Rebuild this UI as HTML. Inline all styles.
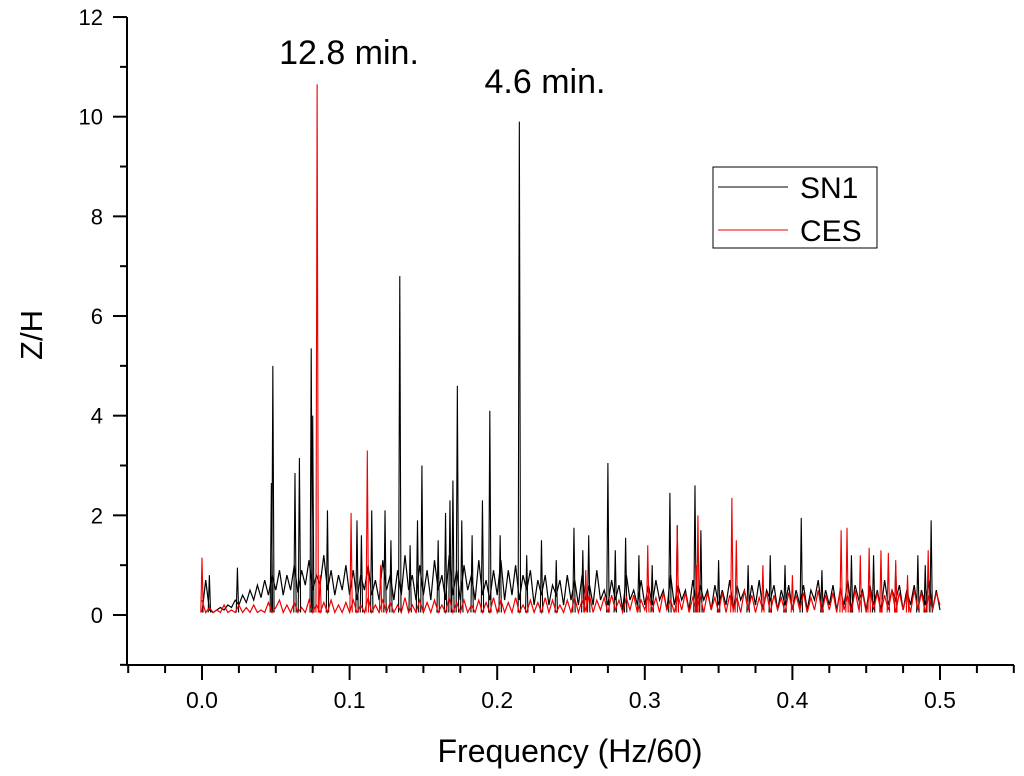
<!DOCTYPE html>
<html><head><meta charset="utf-8"><style>
body{margin:0;background:#fff}
svg{display:block;font-family:"Liberation Sans",Arial,sans-serif}
</style></head><body>
<svg id="chart" width="1024" height="776" viewBox="0 0 1024 776">
<g id="axes"></g>
<g id="plot"></g>
<text x="42" y="335" font-size="31" text-anchor="middle" transform="rotate(-90 42 335)">Z/H</text>
<text x="570" y="762" font-size="32" text-anchor="middle">Frequency (Hz/60)</text>
<text x="349" y="64" font-size="34" text-anchor="middle">12.8 min.</text>
<text x="545" y="93" font-size="34" text-anchor="middle">4.6 min.</text>
<g>
<rect x="713" y="167" width="164" height="81" fill="#fff" stroke="#000" stroke-width="1"/>
<line x1="718" y1="187" x2="788" y2="187" stroke="#000"/>
<text x="800" y="198" font-size="30">SN1</text>
<line x1="718" y1="230" x2="788" y2="230" stroke="#e00"/>
<text x="800" y="241" font-size="30">CES</text>
</g>
</svg>
<script>
const xTicks=[0.0,0.1,0.2,0.3,0.4,0.5];
const xTickLabels=["0.0","0.1","0.2","0.3","0.4","0.5"];
const yTicks=[0,2,4,6,8,10,12];
const yTickLabels=["0","2","4","6","8","10","12"];
// baselines sampled every 0.0025 from 0 to 0.5
const sn1Base=[0.05,0.7,0.1,0.05,0.1,0.15,0.1,0.2,0.15,0.3,0.2,0.4,0.25,0.5,0.3,0.6,0.35,0.7,0.4,0.8,0.5,
0.9,0.4,0.8,0.5,1.0,0.45,0.9,0.6,1.1,0.5,0.8,0.6,1.2,0.5,0.9,0.4,0.8,0.5,1.0,0.4,
0.9,0.3,0.8,0.5,1.0,0.4,0.7,0.3,1.1,0.5,0.8,0.3,0.9,0.4,1.2,0.5,0.8,0.3,1.0,0.4,
0.9,0.3,1.1,0.5,0.8,0.3,1.2,0.4,0.9,0.3,1.0,0.5,0.8,0.3,1.1,0.4,0.7,0.3,0.9,0.4,
1.1,0.3,0.9,0.4,1.0,0.3,0.8,0.5,0.9,0.2,0.7,0.4,0.8,0.2,0.6,0.4,0.7,0.2,0.8,0.3,
0.7,0.2,0.8,0.3,0.6,0.2,0.9,0.3,0.5,0.2,0.7,0.3,0.6,0.1,0.8,0.3,0.5,0.2,0.7,0.2,
0.6,0.2,0.7,0.3,0.5,0.1,0.8,0.2,0.6,0.3,0.5,0.1,0.7,0.2,0.6,0.3,0.5,0.1,0.6,0.2,
0.5,0.2,0.7,0.1,0.6,0.3,0.5,0.1,0.6,0.2,0.7,0.1,0.5,0.3,0.6,0.1,0.5,0.2,0.6,0.1,
0.5,0.2,0.6,0.1,0.5,0.3,0.7,0.1,0.5,0.2,0.6,0.1,0.5,0.2,0.7,0.1,0.6,0.3,0.5,0.1,
0.6,0.2,0.5,0.1,0.7,0.2,0.5,0.3,0.6,0.1,0.5,0.2,0.6,0.1,0.5,0.2,0.7,0.1,0.5,0.1];
const cesBase=[0.3,0.05,0.15,0.05,0.1,0.05,0.2,0.05,0.1,0.05,0.2,0.05,0.15,0.05,0.2,0.05,0.1,0.05,0.25,0.05,0.15,
0.3,0.05,0.2,0.05,0.25,0.05,0.15,0.05,0.3,0.05,0.2,0.05,0.25,0.05,0.3,0.05,0.2,0.05,0.25,0.05,
0.3,0.05,0.2,0.05,0.35,0.05,0.2,0.05,0.3,0.05,0.25,0.05,0.2,0.05,0.35,0.05,0.2,0.05,0.3,0.05,
0.25,0.05,0.3,0.05,0.2,0.05,0.35,0.05,0.25,0.05,0.3,0.05,0.2,0.05,0.3,0.05,0.25,0.05,0.35,0.05,
0.3,0.05,0.25,0.05,0.35,0.05,0.2,0.05,0.3,0.05,0.25,0.05,0.35,0.05,0.3,0.05,0.2,0.05,0.3,0.05,
0.35,0.05,0.3,0.1,0.4,0.05,0.3,0.1,0.35,0.05,0.4,0.1,0.3,0.05,0.35,0.1,0.4,0.05,0.3,0.1,
0.4,0.1,0.35,0.05,0.45,0.1,0.3,0.05,0.4,0.1,0.45,0.05,0.35,0.1,0.4,0.05,0.45,0.1,0.35,0.05,
0.45,0.05,0.4,0.1,0.35,0.05,0.5,0.1,0.4,0.05,0.35,0.1,0.45,0.05,0.4,0.1,0.35,0.05,0.45,0.1,
0.4,0.1,0.45,0.05,0.35,0.1,0.5,0.05,0.4,0.1,0.45,0.05,0.55,0.1,0.4,0.05,0.5,0.1,0.45,0.05,
0.5,0.1,0.45,0.05,0.4,0.1,0.5,0.05,0.45,0.1,0.4,0.05,0.5,0.1,0.45,0.05,0.4,0.1,0.45,0.2];
const sn1SpikeFreq=[0.005,0.024,0.047,0.048,0.063,0.066,0.074,0.075,0.085,0.105,0.108,0.115,0.124,0.128,0.134,0.141,0.146,0.149,0.16,0.165,0.168,0.170,0.173,0.176,0.183,0.19,0.195,0.202,0.215,0.22,0.23,0.24,0.252,0.258,0.262,0.275,0.28,0.287,0.296,0.305,0.317,0.322,0.334,0.338,0.35,0.37,0.385,0.395,0.406,0.42,0.44,0.455,0.47,0.485,0.49,0.494];
const sn1SpikeVal=[0.8,0.95,2.65,5.0,2.85,3.15,5.35,4.0,2.1,1.9,1.6,2.1,2.1,1.5,6.8,1.4,1.9,3.0,1.5,2.05,2.3,2.7,4.6,1.9,1.6,2.3,4.1,1.6,9.9,1.2,1.5,1.1,1.75,1.3,1.6,3.05,1.3,1.55,1.2,1.0,2.45,1.8,2.6,1.7,1.1,1.0,1.2,1.0,1.95,0.9,1.2,1.2,1.0,1.2,1.0,1.9];
const cesSpikeFreq=[0.0,0.078,0.08,0.101,0.112,0.121,0.26,0.302,0.322,0.335,0.336,0.359,0.362,0.38,0.4,0.433,0.437,0.446,0.452,0.46,0.465,0.47,0.478,0.492];
const cesSpikeVal=[1.15,10.65,0.8,2.05,3.3,1.0,0.9,1.4,1.8,1.0,2.0,2.35,1.5,1.0,0.8,1.7,1.75,1.2,1.35,1.3,1.25,1.1,0.8,1.3];

const X=v=>202+(v-0)*1476;
const Y=v=>615-v*49.83;
const NS="http://www.w3.org/2000/svg";
function mk(tag,attrs,parent){const e=document.createElementNS(NS,tag);for(const k in attrs)e.setAttribute(k,attrs[k]);parent.appendChild(e);return e;}
const axes=document.getElementById('axes'),plot=document.getElementById('plot');
let a=mk('line',{x1:126,y1:665,x2:1014,y2:665,stroke:'#000','stroke-width':2},axes);


a=mk('line',{x1:127,y1:17,x2:127,y2:666,stroke:'#000','stroke-width':2},axes);


for(let i=-2;i<=22;i++){const v=i*0.025;const x=X(v);if(x>1015)break;const major=(i%4===0);
 const t=mk('line',{x1:x,y1:665,x2:x,y2:major?680:673,stroke:'#000','stroke-width':2},axes);
 
 }
xTicks.forEach((v,i)=>{const t=mk('text',{x:X(v),y:708,'font-size':23,'text-anchor':'middle'},axes);t.textContent=xTickLabels[i];
 
 });
for(let v=-1;v<=12;v++){const major=(v%2===0);
 const t=mk('line',{x1:major?113:120,y1:Y(v),x2:127,y2:Y(v),stroke:'#000','stroke-width':2},axes);
 
 }
yTicks.forEach((v,i)=>{const t=mk('text',{x:103,y:Y(v)+8,'font-size':22,'text-anchor':'end'},axes);t.textContent=yTickLabels[i];
 
 });
function series(base,sf,sv,color,name){
 const g=mk('g',{},plot);
 
 
 const pts=base.map((b,i)=>X(i*0.0025).toFixed(1)+','+Y(b).toFixed(1)).join(' ');
 const p=mk('polyline',{points:pts,fill:'none',stroke:color,'stroke-width':1.2,'stroke-linejoin':'miter'},g);
 
 
 sf.forEach((f,i)=>{const x=X(f);const b=Y(0.05);
  const s=mk('path',{d:`M${x-1.2},${b}L${x},${Y(sv[i])}L${x+1.2},${b}`,fill:'none',stroke:color,'stroke-width':1.1},g);
  
  });
}
series(sn1Base,sn1SpikeFreq,sn1SpikeVal,'#000','sn1');
series(cesBase,cesSpikeFreq,cesSpikeVal,'#e00','ces');
</script>
</body></html>
